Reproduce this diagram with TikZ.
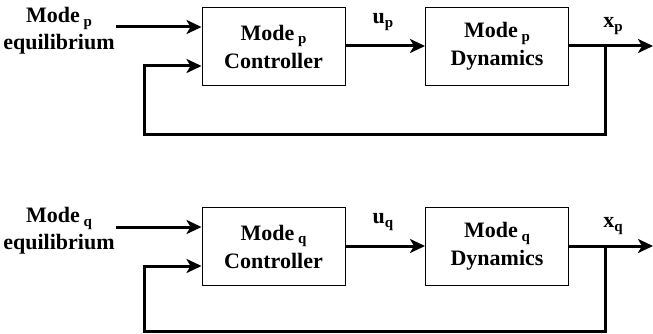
\documentclass[tikz,border=0pt]{standalone}
\usepackage{fontspec}
\setmainfont{Liberation Serif}
\usetikzlibrary{arrows.meta}

% bold label with a lowered subscript, e.g. Mode_p
\newcommand{\modesub}[1]{Mode\,\raisebox{-0.35ex}{\fontsize{15}{15}\selectfont #1}}

\begin{document}
\begin{tikzpicture}[x=1pt,y=-1pt,
  txt/.style={font=\fontsize{22}{27}\selectfont\bfseries, align=center, inner sep=0pt},
  blockbox/.style={draw, line width=1pt, minimum width=143pt, minimum height=78pt,
    font=\fontsize{22}{28}\selectfont\bfseries, align=center, inner sep=0pt},
  sig/.style={line width=3pt},
  arr/.style={sig, -{Stealth[length=15pt,width=14pt,inset=4pt]}},
  sublbl/.style={font=\fontsize{22}{22}\selectfont\bfseries, inner sep=0pt}]

\useasboundingbox (0,0) rectangle (653,334);

% two identical loops, one per mode; the lower return line sits at the bottom edge
\foreach \m/\dy/\fb in {p/0/135, q/200/331.5}{
  \node[blockbox] (ctrl\m) at (273.5,46.5+\dy) {\modesub{\m}\\Controller};
  \node[blockbox] (dyn\m)  at (497,46.5+\dy)  {\modesub{\m}\\Dynamics};
  \node[txt] (eq\m) at (59,31+\dy) {\modesub{\m}\\equilibrium};

  \coordinate (in\m)  at (116,27+\dy);
  \coordinate (tap\m) at (605,46+\dy);
  \coordinate (out\m) at (653,46+\dy);
  \coordinate (fbd\m) at (605,\fb);
  \coordinate (fbl\m) at (144,\fb);
  \coordinate (fbu\m) at (144,66+\dy);

  % reference input
  \draw[arr] (in\m) -- (in\m -| ctrl\m.west);
  % control signal
  \draw[arr] (ctrl\m.east |- tap\m) -- (dyn\m.west |- tap\m);
  \node[sublbl] (u\m) at (383,22+\dy) {u\raisebox{-0.35ex}{\fontsize{15}{15}\selectfont\m}};
  % state output
  \draw[arr] (dyn\m.east |- tap\m) -- (out\m);
  \node[sublbl] (x\m) at (613,26+\dy) {x\raisebox{-0.35ex}{\fontsize{15}{15}\selectfont\m}};
  % feedback path
  \draw[arr, line join=miter] (tap\m) -- (fbd\m) -- (fbl\m) -- (fbu\m) -- (fbu\m -| ctrl\m.west);
}
\end{tikzpicture}
\end{document}
